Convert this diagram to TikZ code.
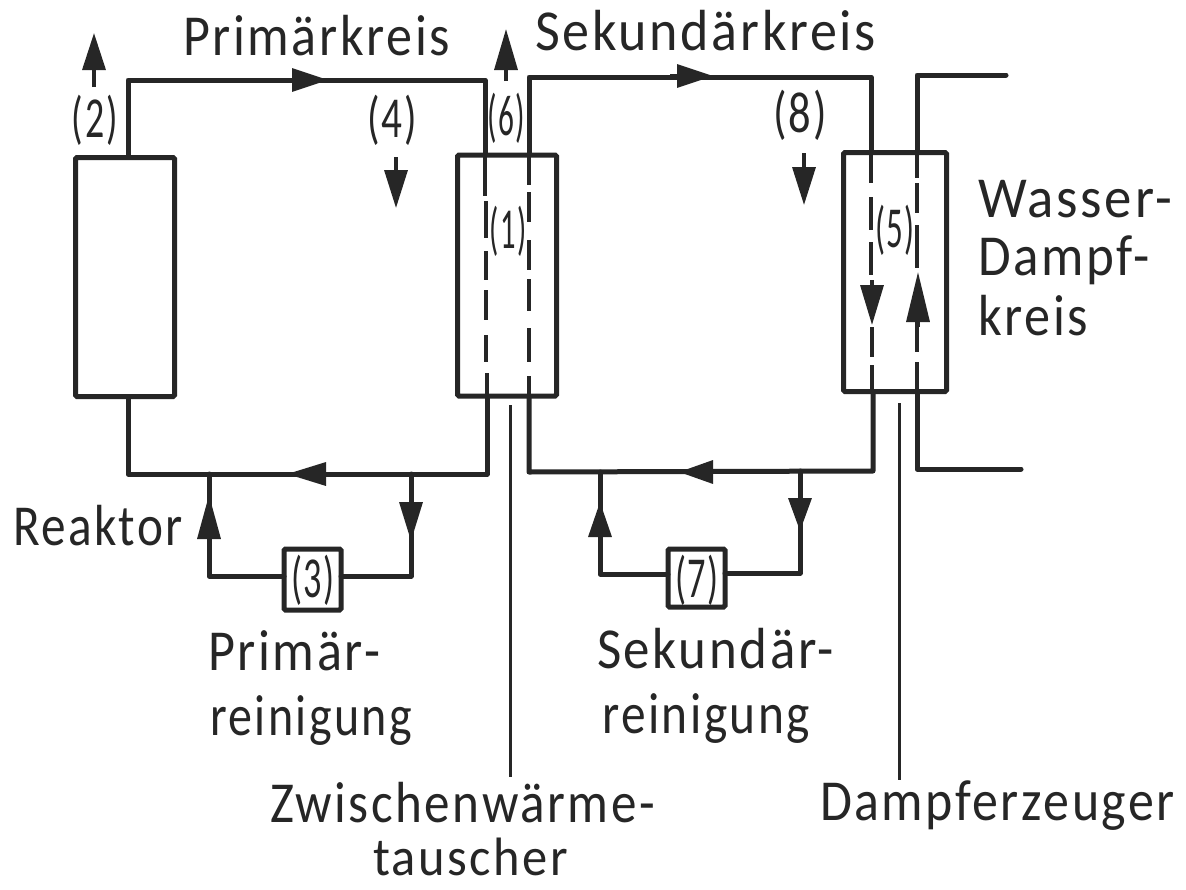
\documentclass[tikz,border=0pt]{standalone}
\usepackage{graphicx}
\usepackage{fontspec}
\setmainfont{Carlito}[LetterSpace=5]
\usetikzlibrary{arrows.meta}
\newcommand\fitw[2]{\resizebox{#1pt}{\height}{#2}}
\tikzset{
  x=1pt,y=-1pt,
  pipe/.style={line width=5pt,line join=round,line cap=round,black!85},
  unit/.style={draw=black!85,line width=5pt,fill=none,inner sep=0pt,outer sep=0pt,rounded corners=1.5pt},
  leader/.style={line width=3pt,black!85},
  flow/.style={line width=3.4pt,black!85,-{Triangle[length=#1,width=23pt,black!85]}},
  flow/.default=37pt,
  lab/.style={anchor=base west,inner sep=0pt,outer sep=0pt,font=\fontsize{58}{58}\selectfont,text=black!85},
  num/.style={anchor=base,inner sep=0pt,outer sep=0pt,font=\fontsize{58}{58}\selectfont,text=black!85}
}
\begin{document}
\begin{tikzpicture}
\useasboundingbox (0,0) rectangle (1186,889);
\fill[white] (0,0) rectangle (1186,889);
% units
\node[unit,minimum width=99pt,minimum height=239pt] (reactor) at (125,277) {};
\node[unit,minimum width=99pt,minimum height=241pt] (ihx) at (507,275.5) {};
\node[unit,minimum width=103pt,minimum height=239pt] (sg) at (895,272) {};
\node[unit,minimum width=57pt,minimum height=61pt] (pc) at (312.5,579.5) {};
\node[unit,minimum width=57pt,minimum height=58pt] (sc) at (696.5,578) {};
% coordinates
\coordinate (r1) at (128,157); \coordinate (r2) at (128,80);
\coordinate (i1) at (485,80); \coordinate (i2) at (485,155);
\coordinate (r3) at (128,397); \coordinate (r4) at (128,474);
\coordinate (i3) at (487,474); \coordinate (i4) at (487,396);
\coordinate (b1) at (209,474); \coordinate (b2) at (209,576); \coordinate (b3) at (411,474); \coordinate (b4) at (411,576);
\coordinate (j1) at (529,155); \coordinate (j2) at (529,77);
\coordinate (s1) at (871,77); \coordinate (s2) at (871,152);
\coordinate (j3) at (529,396); \coordinate (j4) at (529,472);
\coordinate (s3) at (873,392); \coordinate (s4) at (873,471);
\coordinate (c1) at (600,472); \coordinate (c2) at (600,574); \coordinate (c3) at (800,471); \coordinate (c4) at (800,573);
\coordinate (w1) at (917,152); \coordinate (w2) at (917,75); \coordinate (w3) at (1006,75);
\coordinate (w4) at (917,392); \coordinate (w5) at (917,469); \coordinate (w6) at (1021,469);
% pipes
\draw[pipe] (r1) -- (r2) -- (i1) -- (i2);
\draw[pipe] (r3) -- (r4) -- (i3) -- (i4);
\draw[pipe] (b1) -- (b2) -- (b2 -| pc.west);
\draw[pipe] (b3) -- (b4) -- (b4 -| pc.east);
\draw[pipe] (j1) -- (j2) -- (s1) -- (s2);
\draw[pipe] (j3) -- (j4) -- (s4) -- (s3);
\draw[pipe] (c1) -- (c2) -- (c2 -| sc.west);
\draw[pipe] (c3) -- (c4) -- (c4 -| sc.east);
\draw[pipe] (w1) -- (w2) -- (w3);
\draw[pipe] (w4) -- (w5) -- (w6);
% dashed tubes
\foreach \x/\a/\b in {485/155/196,486/201/238,486/251/280,486/290/320,486/335/362,487/373/396,
  529/155/185,529/192/222,529/240/270,529/279/311,529/328/362,529/376/396,
  871/152/183,871/197/230,871/242/275,872/327/357,872/365/392,
  917/152/178,917/183/213,917/225/268,917/322/352,917/362/392}
  \draw[pipe,line cap=butt,line width=4.4pt] (\x,\a) -- (\x,\b);
% flow arrows
\coordinate (a1) at (285,80); \coordinate (a2) at (328,80);
\draw[flow=36pt] (a1) -- (a2);
\coordinate (a3) at (335,474); \coordinate (a4) at (287,474);
\draw[flow=39pt] (a3) -- (a4);
\coordinate (a5) at (670,76); \coordinate (a6) at (713,76);
\draw[flow=36pt] (a5) -- (a6);
\coordinate (a7) at (722,472); \coordinate (a8) at (679,472);
\draw[flow=34pt] (a7) -- (a8);
\coordinate (a9) at (209,545); \coordinate (a10) at (209,495);
\draw[flow=44pt] (a9) -- (a10);
\coordinate (a11) at (411,495); \coordinate (a12) at (411,541);
\draw[flow=39pt] (a11) -- (a12);
\coordinate (a13) at (600,545); \coordinate (a14) at (600,502);
\draw[flow=35pt] (a13) -- (a14);
\coordinate (a15) at (800,490); \coordinate (a16) at (800,531);
\draw[flow=33pt] (a15) -- (a16);
\coordinate (t1) at (94,87); \coordinate (t2) at (94,33);
\draw[flow=37pt] (t1) -- (t2);
\coordinate (t3) at (506,81); \coordinate (t4) at (506,29);
\draw[flow=41pt] (t3) -- (t4);
\coordinate (t5) at (396,157); \coordinate (t6) at (396,208);
\draw[flow=38pt] (t5) -- (t6);
\coordinate (t7) at (804,153); \coordinate (t8) at (804,205);
\draw[flow=38pt] (t7) -- (t8);
\coordinate (t9) at (872,280); \coordinate (t10) at (872,325);
\draw[flow=40pt] (t9) -- (t10);
\coordinate (t11) at (918,327); \coordinate (t12) at (918,272);
\draw[flow=50pt] (t11) -- (t12);
% leaders
\coordinate (l1) at (510,405); \coordinate (l2) at (510,777);
\coordinate (l3) at (899,403); \coordinate (l4) at (899,780);
\draw[leader] (l1) -- (l2);
\draw[leader] (l3) -- (l4);
% labels
\node[lab] (tprim) at (183,55) {\fitw{267}{Primärkreis}};
\node[lab] (tsek) at (535,50) {\fitw{341}{Sekundärkreis}};
\node[lab] (twas) at (978,217) {\fitw{194}{Wasser-}};
\node[lab] (tdam) at (978,275) {\fitw{172}{Dampf-}};
\node[lab] (tkre) at (978,335) {\fitw{110}{kreis}};
\node[lab] (treak) at (13,545) {\fitw{170}{Reaktor}};
\node[lab] (tpr1) at (208,670) {\fitw{172}{Primär-}};
\node[lab] (tpr2) at (210,735) {\fitw{202}{reinigung}};
\node[lab] (tse1) at (597,668) {\fitw{237}{Sekundär-}};
\node[lab] (tse2) at (602,733) {\fitw{208}{reinigung}};
\node[lab] (tzw1) at (270,822) {\fitw{385}{Zwischenwärme-}};
\node[lab,font=\fontsize{54}{54}\selectfont] (tzw2) at (373,875) {\fitw{195}{tauscher}};
\node[lab] (tdpf) at (820,820) {\fitw{355}{Dampferzeuger}};
% numbers
\node[num] (n2) at (95,137) {\fitw{46}{(2)}};
\node[num] (n4) at (392,137) {\fitw{50}{(4)}};
\node[num] (n6) at (506,135) {\fitw{38}{(6)}};
\node[num] (n8) at (800,132) {\fitw{54}{(8)}};
\node[num] (n1) at (508,248) {\fitw{37}{(1)}};
\node[num] (n5) at (895,247) {\fitw{40}{(5)}};
\node[num] (n3) at (313,597) {\fitw{44}{(3)}};
\node[num] (n7) at (697,597) {\fitw{44}{(7)}};
\end{tikzpicture}
\end{document}
